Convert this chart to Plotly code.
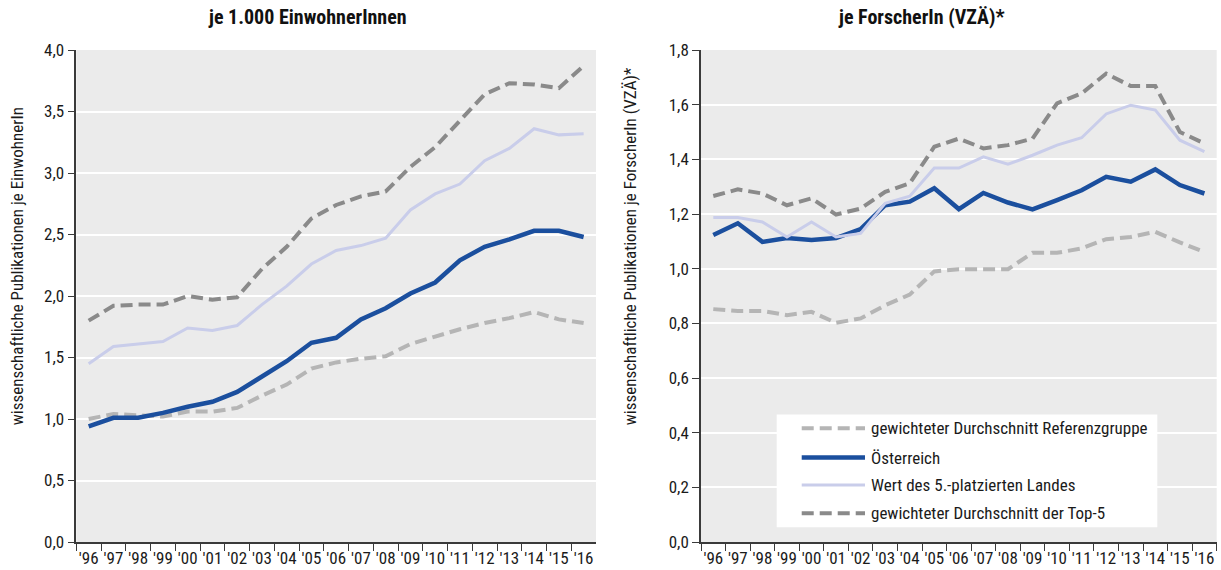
import plotly.graph_objects as go

# Jahre (Kategorien der x-Achse)
years = ["'96", "'97", "'98", "'99", "'00", "'01", "'02", "'03", "'04", "'05", "'06",
         "'07", "'08", "'09", "'10", "'11", "'12", "'13", "'14", "'15", "'16"]

# Publikationen je 1.000 EinwohnerInnen
ew_referenz = [1.00, 1.04, 1.03, 1.02, 1.06, 1.06, 1.09, 1.19, 1.28, 1.41, 1.46,
               1.49, 1.51, 1.61, 1.67, 1.73, 1.78, 1.82, 1.87, 1.81, 1.78]
ew_oesterreich = [0.94, 1.01, 1.01, 1.05, 1.10, 1.14, 1.22, 1.35, 1.47, 1.62, 1.66,
                  1.81, 1.90, 2.02, 2.11, 2.29, 2.40, 2.46, 2.53, 2.53, 2.48]
ew_platz5 = [1.45, 1.59, 1.61, 1.63, 1.74, 1.72, 1.76, 1.93, 2.08, 2.26, 2.37,
             2.41, 2.47, 2.70, 2.83, 2.91, 3.10, 3.20, 3.36, 3.31, 3.32]
ew_top5 = [1.80, 1.92, 1.93, 1.93, 2.00, 1.97, 1.99, 2.22, 2.40, 2.63, 2.74,
           2.81, 2.85, 3.05, 3.21, 3.42, 3.64, 3.73, 3.72, 3.69, 3.87]

# Publikationen je ForscherIn (VZÄ)
fo_referenz = [0.852, 0.845, 0.845, 0.830, 0.842, 0.802, 0.818, 0.866, 0.905, 0.990, 0.998,
               0.998, 0.998, 1.058, 1.058, 1.074, 1.108, 1.116, 1.135, 1.096, 1.061]
fo_oesterreich = [1.123, 1.166, 1.098, 1.112, 1.105, 1.112, 1.145, 1.232, 1.245, 1.294, 1.218,
                  1.277, 1.242, 1.217, 1.251, 1.287, 1.336, 1.318, 1.363, 1.306, 1.275]
fo_platz5 = [1.187, 1.187, 1.171, 1.116, 1.171, 1.116, 1.129, 1.239, 1.265, 1.368, 1.368,
             1.409, 1.382, 1.415, 1.452, 1.479, 1.566, 1.598, 1.580, 1.470, 1.428]
fo_top5 = [1.266, 1.290, 1.275, 1.232, 1.257, 1.198, 1.220, 1.281, 1.312, 1.446, 1.476,
           1.440, 1.452, 1.476, 1.605, 1.641, 1.714, 1.668, 1.668, 1.500, 1.458]

series_names = [
    "gewichteter Durchschnitt Referenzgruppe",
    "Österreich",
    "Wert des 5.-platzierten Landes",
    "gewichteter Durchschnitt der Top-5",
]

FONT = "Liberation Sans Narrow, Roboto Condensed, DejaVu Sans Condensed, Arial Narrow, sans-serif"
BLUE = "#1b4f9e"
LAVENDER = "#c9cdea"
DARK_GREY = "#8a8a8a"
LIGHT_GREY = "#b5b5b5"
BG = "#ebebeb"
AXIS = "#3a3a3a"
DASH = "12px,6px"

styles = [
    dict(color=LIGHT_GREY, width=4, dash=DASH),
    dict(color=BLUE, width=4.5),
    dict(color=LAVENDER, width=3),
    dict(color=DARK_GREY, width=4, dash=DASH),
]

fig = go.Figure()

for values, style, name in zip([ew_referenz, ew_oesterreich, ew_platz5, ew_top5], styles, series_names):
    fig.add_trace(go.Scatter(x=years, y=values, mode="lines", name=name, line=style,
                             xaxis="x", yaxis="y", showlegend=False))
for values, style, name in zip([fo_referenz, fo_oesterreich, fo_platz5, fo_top5], styles, series_names):
    fig.add_trace(go.Scatter(x=years, y=values, mode="lines", name=name, line=style,
                             xaxis="x2", yaxis="y2", showlegend=False))

W, H = 1221, 570
PLOT_TOP, PLOT_BOTTOM = 50, 541.7
L_LEFT, L_RIGHT = 76.3, 596.0
R_LEFT, R_RIGHT = 701.0, 1216.7

xaxis_common = dict(
    type="category", range=[-0.5, 20.5], tickson="boundaries", tickangle=0,
    ticks="outside", ticklen=7, tickwidth=1.3, tickcolor=AXIS,
    showline=True, linecolor=AXIS, linewidth=1.5, showgrid=False,
    tickfont=dict(family=FONT, size=17, color="#1a1a1a"),
    automargin=False, zeroline=False,
)
yaxis_common = dict(
    ticks="outside", ticklen=7, tickwidth=1.3, tickcolor=AXIS,
    showline=True, linecolor=AXIS, linewidth=1.5,
    showgrid=True, gridcolor="white", gridwidth=2,
    tickfont=dict(family=FONT, size=17, color="#1a1a1a"),
    tickformat=".1f", automargin=False, zeroline=False,
)

fig.update_layout(
    width=W, height=H,
    margin=dict(l=0, r=0, t=PLOT_TOP, b=H - PLOT_BOTTOM, pad=0),
    paper_bgcolor="white", plot_bgcolor=BG,
    separators=",.",
    showlegend=False,
    font=dict(family=FONT, color="#1a1a1a"),
    xaxis=dict(domain=[L_LEFT / W, L_RIGHT / W], anchor="y", **xaxis_common),
    yaxis=dict(domain=[0, 1], anchor="x", range=[0, 4], dtick=0.5, **yaxis_common),
    xaxis2=dict(domain=[R_LEFT / W, R_RIGHT / W], anchor="y2", **xaxis_common),
    yaxis2=dict(domain=[0, 1], anchor="x2", range=[0, 1.8], dtick=0.2, **yaxis_common),
)

# Diagrammtitel
fig.add_annotation(text="<b>je 1.000 EinwohnerInnen</b>", xref="paper", yref="paper",
                   x=307 / W, y=1, yshift=33, xanchor="center", yanchor="middle",
                   showarrow=False, font=dict(family=FONT, size=20, color="#111"))
fig.add_annotation(text="<b>je ForscherIn (VZÄ)*</b>", xref="paper", yref="paper",
                   x=921 / W, y=1, yshift=33, xanchor="center", yanchor="middle",
                   showarrow=False, font=dict(family=FONT, size=20, color="#111"))

# Achsentitel (vertikal)
def y_paper(py):
    return (PLOT_BOTTOM - py) / (PLOT_BOTTOM - PLOT_TOP)

fig.add_annotation(text="wissenschaftliche Publikationen je EinwohnerIn", textangle=-90,
                   xref="paper", yref="paper", x=17 / W, y=y_paper(427),
                   xanchor="center", yanchor="bottom", showarrow=False,
                   font=dict(family=FONT, size=17, color="#1a1a1a"))
fig.add_annotation(text="wissenschaftliche Publikationen je ForscherIn (VZÄ)*", textangle=-90,
                   xref="paper", yref="paper", x=630 / W, y=y_paper(427),
                   xanchor="center", yanchor="bottom", showarrow=False,
                   font=dict(family=FONT, size=17, color="#1a1a1a"))

# Legende im rechten Diagramm
fig.add_shape(type="rect", xref="x2 domain", yref="y2 domain",
              x0=0.1468, x1=0.8848, y0=0.0299, y1=0.2591,
              fillcolor="white", line=dict(width=0), layer="above")
legend_rows = [0.2312, 0.1716, 0.1159, 0.0584]
for name, style, ry in zip(series_names, styles, legend_rows):
    fig.add_shape(type="line", xref="x2 domain", yref="y2 domain",
                  x0=0.1953, x1=0.3180, y0=ry, y1=ry, layer="above",
                  line=dict(color=style["color"], width=style["width"],
                            dash=style.get("dash", "solid")))
    fig.add_annotation(text=name, xref="x2 domain", yref="y2 domain",
                       x=0.3251, y=ry, xanchor="left", yanchor="middle", showarrow=False,
                       font=dict(family=FONT, size=17, color="#1a1a1a"))

fig.write_html("out.html")
